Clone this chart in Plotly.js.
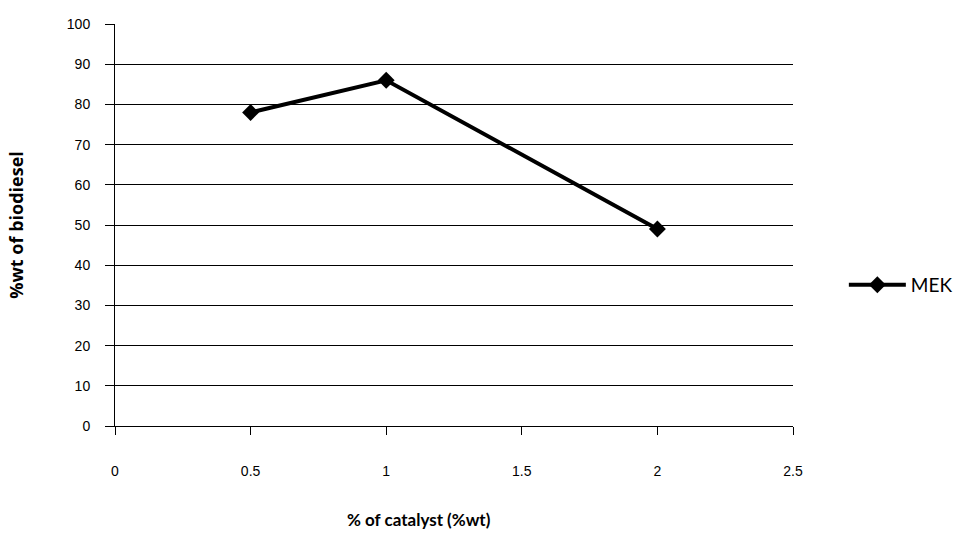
<!DOCTYPE html>
<html>
<head>
<meta charset="utf-8">
<script src="https://cdn.plot.ly/plotly-3.0.1.min.js"></script>
<style>html,body{margin:0;padding:0;background:#fff;}#chart{width:961px;height:538px;}</style>
</head>
<body>
<div id="chart"></div>
<script>
const catalyst = [0.5, 1, 2];
const biodiesel = [78, 86, 49];
const seriesName = 'MEK';
const xTicks = [0, 0.5, 1, 1.5, 2, 2.5];
const xTickText = ['0', '0.5', '1', '1.5', '2', '2.5'];
const yTicks = [0, 10, 20, 30, 40, 50, 60, 70, 80, 90, 100];

const trace = {
  x: catalyst, y: biodiesel, name: seriesName,
  type: 'scatter', mode: 'lines+markers',
  line: {color: '#000', width: 4},
  marker: {symbol: 'diamond', size: 13, color: '#000'}
};

const layout = {
  width: 961, height: 538,
  margin: {l: 115, r: 168, t: 23.5, b: 111.5, autoexpand: false},
  paper_bgcolor: '#fff', plot_bgcolor: '#fff',
  showlegend: true,
  legend: {x: 1.075, y: 0.351, xanchor: 'left', yanchor: 'middle', itemwidth: 57,
    font: {family: 'Lato, "Liberation Sans", sans-serif', size: 19, color: '#000'},
    bgcolor: 'rgba(0,0,0,0)'},
  xaxis: {
    range: [0, 2.5], tickvals: xTicks, ticktext: xTickText,
    showgrid: false, zeroline: false,
    showline: true, linecolor: '#000', linewidth: 1,
    ticks: 'outside', ticklen: 8, tickcolor: '#000',
    ticklabelstandoff: 24,
    tickfont: {family: '"Liberation Sans", Arial, sans-serif', size: 14, color: '#000'}
  },
  yaxis: {
    range: [0, 100], tickvals: yTicks,
    showgrid: true, gridcolor: '#000', gridwidth: 1, zeroline: false,
    showline: true, linecolor: '#000', linewidth: 1,
    ticks: 'outside', ticklen: 9, tickcolor: '#000',
    ticklabelstandoff: 12,
    tickfont: {family: '"Liberation Sans", Arial, sans-serif', size: 14, color: '#000'},
    title: {text: '%wt of biodiesel', standoff: 38,
      font: {family: '"Open Sans", Lato, sans-serif', size: 18, color: '#000', weight: 'bold'}}
  },
  annotations: [{
    text: '<b>% of catalyst (%wt)</b>', xref: 'paper', yref: 'paper',
    x: 0.448, y: -0.232, xanchor: 'center', yanchor: 'middle', showarrow: false,
    font: {family: 'Lato, "Liberation Sans", sans-serif', size: 17, color: '#000'}
  }]
};

Plotly.newPlot('chart', [trace], layout, {displayModeBar: false, staticPlot: true});
</script>
</body>
</html>
